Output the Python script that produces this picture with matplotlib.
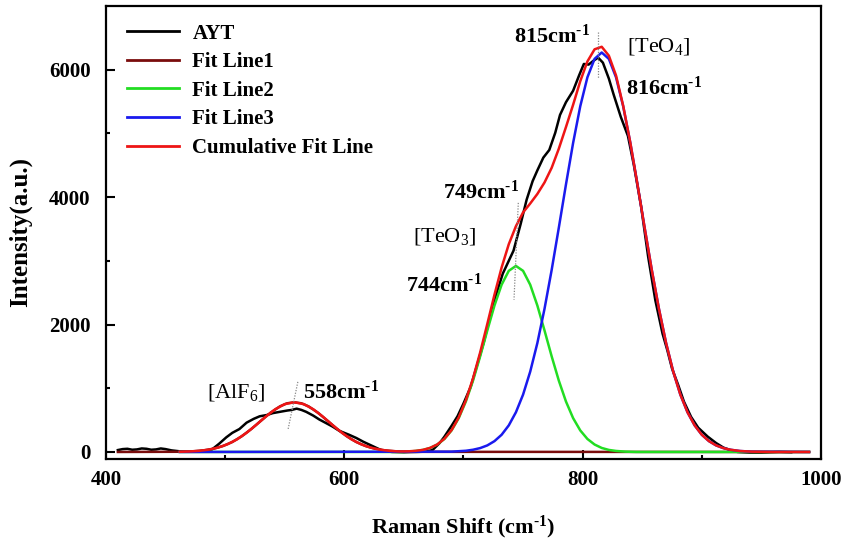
import matplotlib
matplotlib.use("Agg")
import matplotlib.pyplot as plt
import numpy as np

plt.rcParams['font.family'] = ['Liberation Serif', 'DejaVu Serif']
plt.rcParams['mathtext.fontset'] = 'custom'
plt.rcParams['mathtext.rm'] = 'Liberation Serif'
plt.rcParams['mathtext.bf'] = 'Liberation Serif:bold'
plt.rcParams['mathtext.it'] = 'Liberation Serif:italic'

# Measured Raman spectrum (AYT)
ayt_x = [410, 414, 418, 422, 426, 430, 434, 438, 442, 446, 450, 455, 462, 470, 478,
         484, 489, 495, 501, 506, 512, 518, 524, 529, 535, 540, 546, 552, 556, 560,
         564, 568, 574, 579, 585, 590, 596, 604, 610, 616, 624, 632, 640, 650, 660,
         668, 674, 680, 684, 690, 695, 700, 706, 712, 717, 725, 733, 742, 748, 753,
         758, 762, 767, 772, 777, 781, 786, 792, 797, 801, 805, 809, 813, 817, 822,
         826, 832, 838, 843, 849, 855, 861, 867, 871, 875, 880, 885, 891, 897, 905,
         912, 918, 925, 930, 940, 950, 965, 975]
ayt_y = [30, 45, 50, 35, 40, 55, 50, 35, 40, 55, 45, 25, 10, 5, 10,
         20, 40, 130, 230, 300, 360, 460, 520, 560, 580, 610, 630, 650, 660, 680,
         660, 630, 570, 510, 450, 400, 330, 270, 220, 160, 90, 20, 0, -5, 0,
         5, 30, 140, 240, 410, 560, 760, 1020, 1400, 1720, 2330, 2800, 3160, 3580, 3960,
         4250, 4420, 4620, 4740, 5010, 5290, 5490, 5670, 5910, 6090, 6080, 6140, 6190, 6110, 5860,
         5610, 5260, 4960, 4500, 3860, 3060, 2380, 1860, 1600, 1310, 1060, 790, 550, 380, 240,
         140, 70, 20, 0, -10, -10, 0, -5]

# Fit Line1 ([AlF6], 558 cm-1)
fit1_x = [410, 460, 466, 474, 482, 490, 498, 506, 514, 522, 530, 538, 546, 552, 558,
          564, 570, 578, 586, 594, 602, 610, 618, 626, 634, 642, 650, 660, 990]
fit1_y = [0, 3, 5, 12, 25, 50, 92, 156, 247, 361, 489, 615, 716, 764, 780,
          764, 716, 615, 489, 361, 247, 156, 92, 50, 25, 12, 5, 2, 0]

# Fit Line2 ([TeO3], 744 cm-1)
fit2_x = [462, 650, 660, 666, 672, 678, 684, 690, 696, 702, 708, 714, 720, 726, 732,
          738, 744, 750, 756, 762, 768, 774, 780, 786, 792, 798, 804, 810, 816, 822,
          828, 836, 845, 990]
fit2_y = [0, 0, 16, 32, 63, 117, 204, 338, 531, 792, 1120, 1501, 1907, 2298, 2625,
          2843, 2920, 2843, 2625, 2298, 1907, 1501, 1120, 792, 531, 338, 204, 117, 63, 32,
          16, 5, 0, 0]

# Fit Line3 ([TeO4], 816 cm-1)
fit3_x = [462, 690, 702, 708, 714, 720, 726, 732, 738, 744, 750, 756, 762, 768, 774,
          780, 786, 792, 798, 804, 810, 816, 822, 828, 834, 840, 846, 852, 858, 864,
          870, 876, 882, 888, 894, 900, 906, 912, 918, 924, 932, 942, 990]
fit3_y = [0, 5, 19, 35, 61, 103, 170, 270, 417, 623, 900, 1261, 1710, 2247, 2857,
          3520, 4199, 4851, 5427, 5881, 6170, 6270, 6170, 5881, 5427, 4851, 4199, 3520, 2857, 2247,
          1710, 1261, 900, 623, 417, 270, 170, 103, 61, 35, 15, 5, 0]

# Cumulative fit
cum_x = [462, 470, 478, 486, 494, 502, 510, 518, 526, 534, 542, 550, 558, 566, 574,
         582, 590, 598, 606, 614, 622, 630, 638, 646, 654, 660, 666, 672, 678, 684,
         690, 696, 702, 708, 714, 720, 726, 732, 738, 744, 750, 756, 762, 768, 774,
         780, 786, 792, 798, 804, 810, 816, 822, 828, 834, 840, 846, 852, 858, 864,
         870, 876, 882, 888, 894, 900, 906, 912, 918, 924, 932, 942, 960, 990]
cum_y = [3, 8, 17, 36, 68, 121, 198, 301, 424, 554, 670, 751, 780, 751, 670,
         554, 424, 301, 198, 121, 68, 36, 17, 8, 10, 18, 33, 64, 118, 207,
         343, 541, 811, 1155, 1562, 2010, 2468, 2895, 3260, 3543, 3760, 3900, 4050, 4230, 4460,
         4760, 5100, 5450, 5820, 6130, 6320, 6360, 6220, 5910, 5434, 4854, 4200, 3520, 2857, 2247,
         1710, 1261, 900, 623, 417, 270, 170, 103, 61, 35, 15, 5, 0, 0]

# superscript "-1" drawn with a real hyphen rather than a minus sign
inv_cm = 'cm$^{\\mathbf{\u20101}}$'

# peak labels: (text, x, y, bold)
peak_labels = [
    ('815' + inv_cm, 774, 6530, True),
    (r'[TeO$_4$]', 864, 6360, False),
    ('816' + inv_cm, 868, 5715, True),
    ('749' + inv_cm, 715, 4080, True),
    (r'[TeO$_3$]', 684, 3375, False),
    ('744' + inv_cm, 684, 2620, True),
    (r'[AlF$_6$]', 509, 926, False),
    ('558' + inv_cm, 597, 942, True),
]
# dotted guide lines through the peak positions
guide_x = [(813, 813), (746, 742.4), (561, 552.7)]
guide_y = [(6590, 5870), (3910, 2390), (1100, 345)]

fig = plt.figure(figsize=(8.47, 5.5), dpi=100)
ax = fig.add_axes([0.1251, 0.1655, 0.8442, 0.8236])

lw = 1.8
ax.plot(ayt_x, ayt_y, color='black', lw=lw, label='AYT')
ax.plot(fit1_x, fit1_y, color='#7a0c0c', lw=lw, label='Fit Line1')
ax.plot(fit2_x, fit2_y, color='#22dd22', lw=lw, label='Fit Line2')
ax.plot(fit3_x, fit3_y, color='#1a1aee', lw=lw, label='Fit Line3')
ax.plot(cum_x, cum_y, color='#ee1515', lw=lw, label='Cumulative Fit Line')

for gx, gy in zip(guide_x, guide_y):
    ax.plot(gx, gy, color='#888888', lw=0.9, ls=(0, (1, 1.2)))

for txt, tx, ty, bold in peak_labels:
    ax.text(tx, ty, txt, fontsize=16, fontweight='bold' if bold else 'normal',
            ha='center', va='center')

ax.set_xlim(400, 1000)
ax.set_ylim(-110, 7000)
ax.set_xticks([400, 600, 800, 1000])
ax.set_xticks([500, 700, 900], minor=True)
ax.set_yticks([0, 2000, 4000, 6000])
ax.set_yticks([1000, 3000, 5000], minor=True)
ax.tick_params(which='both', direction='in', width=1.5, top=False, right=False)
ax.tick_params(which='major', length=6.5)
ax.tick_params(which='minor', length=3)
ax.tick_params(axis='x', which='major', pad=8)
ax.tick_params(axis='y', which='major', pad=11)
for lab in ax.get_xticklabels() + ax.get_yticklabels():
    lab.set_fontsize(15)
    lab.set_fontweight('bold')
for sp in ax.spines.values():
    sp.set_linewidth(1.6)

ax.set_xlabel('Raman Shift (' + inv_cm + ')', fontsize=16, fontweight='bold', labelpad=17)
ax.set_ylabel('Intensity(a.u.)', fontsize=18, fontweight='bold', labelpad=12)

leg = ax.legend(loc='upper left', bbox_to_anchor=(0.029, 0.961), frameon=False,
                borderaxespad=0, borderpad=0, handlelength=2.5, handletextpad=0.65,
                labelspacing=0.41, prop={'weight': 'bold', 'size': 15})
for line in leg.get_lines():
    line.set_linewidth(2.0)

fig.savefig('out.png', dpi=100)
